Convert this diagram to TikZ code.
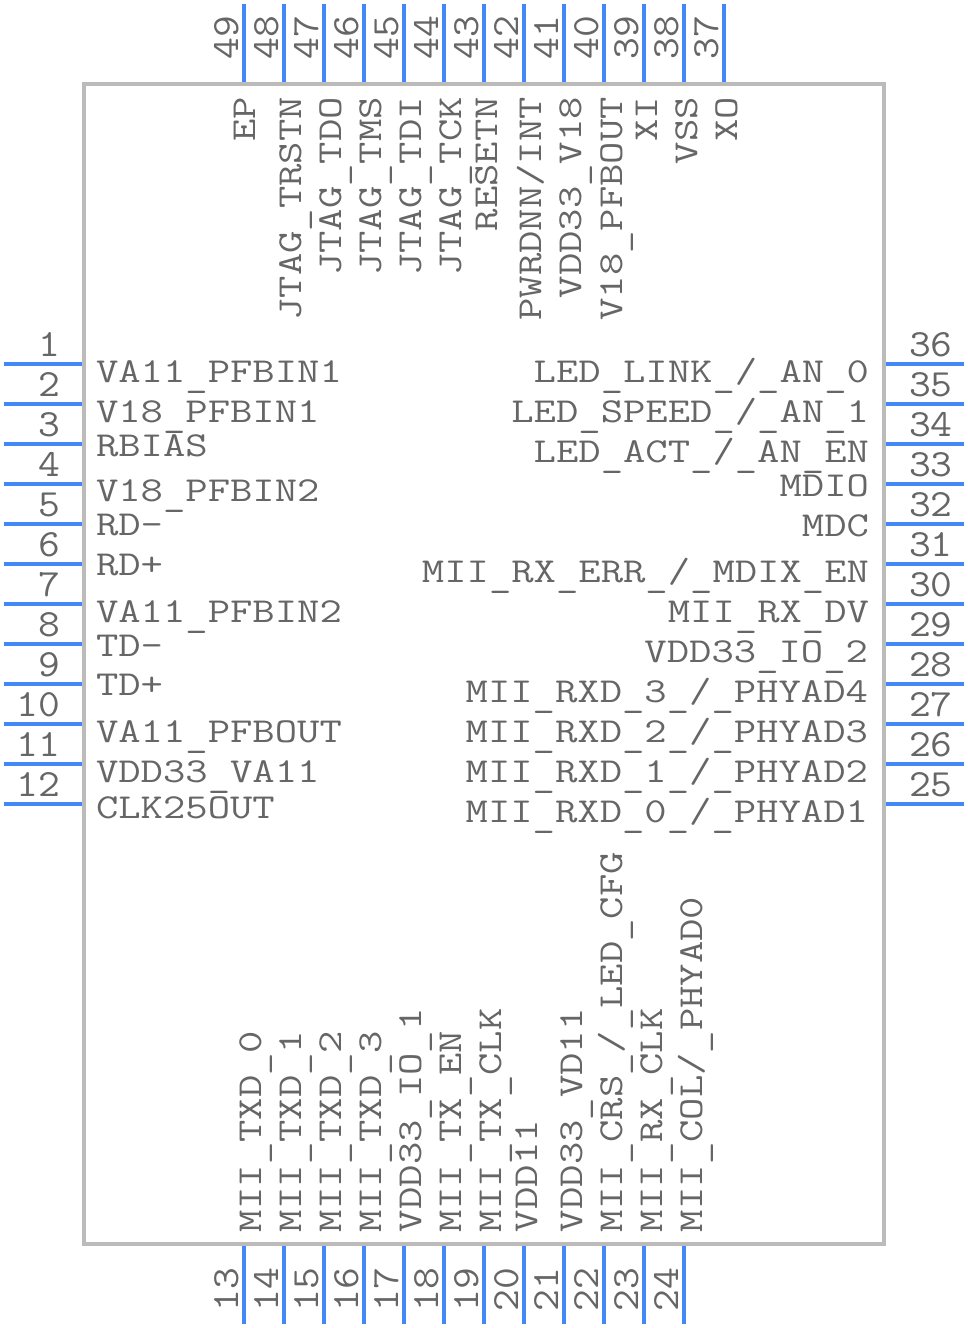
\documentclass[tikz,border=0pt]{standalone}
\usepackage{graphicx}
\definecolor{pinblue}{HTML}{4488F8}
\definecolor{bodygray}{HTML}{BBBBBB}
\definecolor{txtgray}{HTML}{666666}
\newcommand{\T}[1]{\scalebox{1.24}[1]{\def\_{\raisebox{-4pt}{\textunderscore}}#1}}
\newcommand{\N}[1]{\scalebox{1.1}[1]{\fontsize{38.5}{38.5}\selectfont #1}}
\tikzset{
  lbl/.style={inner sep=0pt,outer sep=0pt,text=txtgray,font=\ttfamily\fontsize{35}{35}\selectfont},
  west/.style={lbl,anchor=base west},
  east/.style={lbl,anchor=base east},
  upw/.style={lbl,rotate=90,anchor=base west},
  upe/.style={lbl,rotate=90,anchor=base east},
  pinline/.style={draw=pinblue,line width=4pt},
  chip/.style={draw=bodygray,line width=4pt,fill=white,line join=miter}
}
\begin{document}
\begin{tikzpicture}[x=1pt,y=-1pt]
\useasboundingbox[fill=white] (0,0) rectangle (968,1328);
\draw[chip] (84,84) rectangle (884,1244);
% left pins
\foreach \n in {1,...,12}{
  \pgfmathsetmacro{\yy}{364+40*(\n-1)}
  \coordinate (la\n) at (4,\yy);
  \coordinate (lb\n) at (82,\yy);
  \draw[pinline] (la\n) -- (lb\n);
  \node[east] (ln\n) at (60,\yy-7.5) {\N{\n}};
}
% bottom pins
\foreach \n in {13,...,24}{
  \pgfmathsetmacro{\xx}{244+40*(\n-13)}
  \coordinate (ba\n) at (\xx,1246);
  \coordinate (bb\n) at (\xx,1324);
  \draw[pinline] (ba\n) -- (bb\n);
  \node[upw] (bn\n) at (\xx-6,1311) {\N{\n}};
}
% right pins
\foreach \n in {25,...,36}{
  \pgfmathsetmacro{\yy}{804-40*(\n-25)}
  \coordinate (ra\n) at (886,\yy);
  \coordinate (rb\n) at (964,\yy);
  \draw[pinline] (ra\n) -- (rb\n);
  \node[west] (rn\n) at (909,\yy-7.5) {\N{\n}};
}
% top pins
\foreach \n in {37,...,49}{
  \pgfmathsetmacro{\xx}{724-40*(\n-37)}
  \coordinate (ta\n) at (\xx,4);
  \coordinate (tb\n) at (\xx,82);
  \draw[pinline] (ta\n) -- (tb\n);
  \node[upe] (tn\n) at (\xx-6,16) {\N{\n}};
}
% left labels
\node[west] (l1) at (96,382) {\T{VA11\_PFBIN1}};
\node[west] (l2) at (96,422) {\T{V18\_PFBIN1}};
\node[west] (l3) at (96,456) {\T{RBIAS}};
\node[west] (l4) at (96,501) {\T{V18\_PFBIN2}};
\node[west] (l5) at (96,535) {\T{RD-}};
\node[west] (l6) at (96,575) {\T{RD+}};
\node[west] (l7) at (96,622) {\T{VA11\_PFBIN2}};
\node[west] (l8) at (96,656) {\T{TD-}};
\node[west] (l9) at (96,695) {\T{TD+}};
\node[west] (l10) at (96,742) {\T{VA11\_PFBOUT}};
\node[west] (l11) at (96,782) {\T{VDD33\_VA11}};
\node[west] (l12) at (96,818) {\T{CLK25OUT}};
% right labels
\node[east] (r36) at (869,382) {\T{LED\_LINK\_/\_AN\_0}};
\node[east] (r35) at (869,422) {\T{LED\_SPEED\_/\_AN\_1}};
\node[east] (r34) at (869,462) {\T{LED\_ACT\_/\_AN\_EN}};
\node[east] (r33) at (869,496) {\T{MDIO}};
\node[east] (r32) at (869,536) {\T{MDC}};
\node[east] (r31) at (869,582) {\T{MII\_RX\_ERR\_/\_MDIX\_EN}};
\node[east] (r30) at (869,622) {\T{MII\_RX\_DV}};
\node[east] (r29) at (868,662) {\T{VDD33\_IO\_2}};
\node[east] (r28) at (868,702) {\T{MII\_RXD\_3\_/\_PHYAD4}};
\node[east] (r27) at (868,742) {\T{MII\_RXD\_2\_/\_PHYAD3}};
\node[east] (r26) at (868,782) {\T{MII\_RXD\_1\_/\_PHYAD2}};
\node[east] (r25) at (868,822) {\T{MII\_RXD\_0\_/\_PHYAD1}};
% top labels
\node[upe] (t49) at (255,97) {\T{EP}};
\node[upe] (t48) at (301,97) {\T{JTAG\_TRSTN}};
\node[upe] (t47) at (341,97) {\T{JTAG\_TDO}};
\node[upe] (t46) at (381,97) {\T{JTAG\_TMS}};
\node[upe] (t45) at (421,97) {\T{JTAG\_TDI}};
\node[upe] (t44) at (461,97) {\T{JTAG\_TCK}};
\node[upe] (t43) at (497,97) {\T{RESETN}};
\node[upe] (t42) at (541,97) {\T{PWRDNN/INT}};
\node[upe] (t41) at (581,97) {\T{VDD33\_V18}};
\node[upe] (t40) at (622,97) {\T{V18\_PFBOUT}};
\node[upe] (t39) at (657,97) {\T{XI}};
\node[upe] (t38) at (697,97) {\T{VSS}};
\node[upe] (t37) at (737,97) {\T{XO}};
% bottom labels
\node[upw] (b13) at (261,1232) {\T{MII\_TXD\_0}};
\node[upw] (b14) at (301,1232) {\T{MII\_TXD\_1}};
\node[upw] (b15) at (341,1232) {\T{MII\_TXD\_2}};
\node[upw] (b16) at (381,1232) {\T{MII\_TXD\_3}};
\node[upw] (b17) at (421,1232) {\T{VDD33\_IO\_1}};
\node[upw] (b18) at (461,1232) {\T{MII\_TX\_EN}};
\node[upw] (b19) at (501,1232) {\T{MII\_TX\_CLK}};
\node[upw] (b20) at (537,1232) {\T{VDD11}};
\node[upw] (b21) at (582,1232) {\T{VDD33\_VD11}};
\node[upw] (b22) at (622,1232) {\T{MII\_CRS\_/\_LED\_CFG}};
\node[upw] (b23) at (662,1232) {\T{MII\_RX\_CLK}};
\node[upw] (b24) at (702,1232) {\T{MII\_COL/\_PHYAD0}};
\end{tikzpicture}
\end{document}
